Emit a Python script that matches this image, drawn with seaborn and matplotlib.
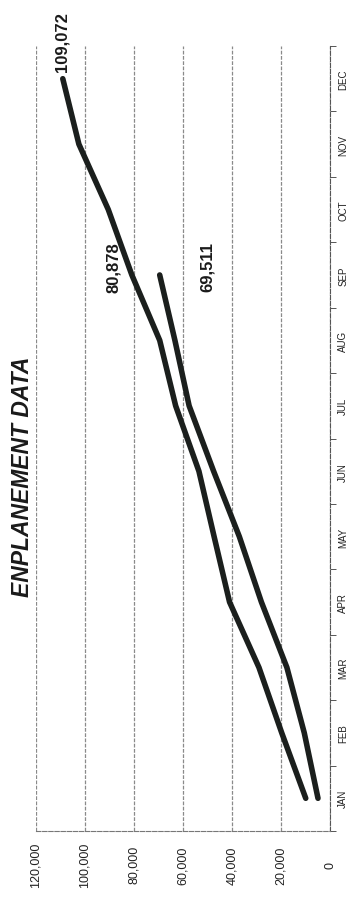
import numpy as np
import pandas as pd
import matplotlib
matplotlib.use("Agg")
import matplotlib.pyplot as plt
import seaborn as sns

# Monthly cumulative enplanements
months = ["JAN", "FEB", "MAR", "APR", "MAY", "JUN",
          "JUL", "AUG", "SEP", "OCT", "NOV", "DEC"]
full_year = [9900, 19700, 29000, 41000, 47300, 53500,
             63000, 69500, 80878, 90500, 102500, 109072]
year_to_date = [4900, 10500, 17600, 28000, 37000, 47500,
                57500, 63300, 69511]
value_ticks = [0, 20000, 40000, 60000, 80000, 100000, 120000]
value_tick_labels = ["0", "20,000", "40,000", "60,000", "80,000", "100,000", "120,000"]
title = "ENPLANEMENT DATA"

sns.set_theme(style="white")
plt.rcParams["font.family"] = ["Liberation Sans", "DejaVu Sans"]

fig = plt.figure(figsize=(3.56, 9.03), dpi=100)
ax = fig.add_axes([36 / 356, 71 / 903, 294 / 356, 785 / 903])

line_color = "#1b1f1d"
for vals in (full_year, year_to_date):
    df = pd.DataFrame({"month": months[:len(vals)],
                       "pos": np.arange(len(vals)),
                       "enplanements": vals})
    sns.lineplot(data=df, x="enplanements", y="pos", orient="y",
                 estimator=None, sort=True, color=line_color,
                 linewidth=4, ax=ax)

# Value axis runs right-to-left, months run bottom-to-top
ax.set_xlim(120000, 0)
ax.set_ylim(-0.5, 11.5)
ax.set_xlabel("")
ax.set_ylabel("")

ax.set_xticks(value_ticks)
ax.set_xticklabels(value_tick_labels, rotation=90, va="center", ha="center",
                   fontsize=9, color="#222222")
ax.tick_params(axis="x", length=0, pad=24)

ax.yaxis.tick_right()
ax.set_yticks(np.arange(len(months)))
ax.set_yticklabels(months, rotation=90, va="center", ha="left",
                   fontsize=7, color="#222222")
ax.set_yticks(np.arange(-0.5, len(months), 1), minor=True)
ax.tick_params(axis="y", which="major", length=0, pad=6)
ax.tick_params(axis="y", which="minor", right=True, length=4, width=0.7,
               color="#555555", direction="out")

ax.grid(axis="x", color="#8a8a8a", linewidth=0.9, linestyle=(0, (3, 1.2)))
ax.grid(axis="y", visible=False)

for side in ("top", "left"):
    ax.spines[side].set_visible(False)
ax.spines["right"].set_color("#555555")
ax.spines["right"].set_linewidth(0.8)
ax.spines["right"].set_linestyle((0, (4, 1.5)))
ax.spines["bottom"].set_color("#777777")
ax.spines["bottom"].set_linewidth(0.8)
ax.spines["bottom"].set_linestyle((0, (4, 1.5)))

# Value labels at the end points of each series
label_style = dict(textcoords="offset points", rotation=90, ha="center",
                   va="center", fontsize=12, fontweight="bold", color="#1a1a1a")
ax.annotate(f"{full_year[11]:,}", xy=(full_year[11], 11), xytext=(-0.6, 27.4), **label_style)
ax.annotate(f"{full_year[8]:,}", xy=(full_year[8], 8), xytext=(-13.5, 5.8), **label_style)
ax.annotate(f"{year_to_date[8]:,}", xy=(year_to_date[8], 8), xytext=(34, 6.5), **label_style)

fig.text(23 / 356, 0.472, title, rotation=90, ha="center", va="center",
         fontsize=16.5, fontweight="bold", fontstyle="italic", color="#1a1a1a")

fig.savefig("out.png", dpi=100, facecolor="white")
